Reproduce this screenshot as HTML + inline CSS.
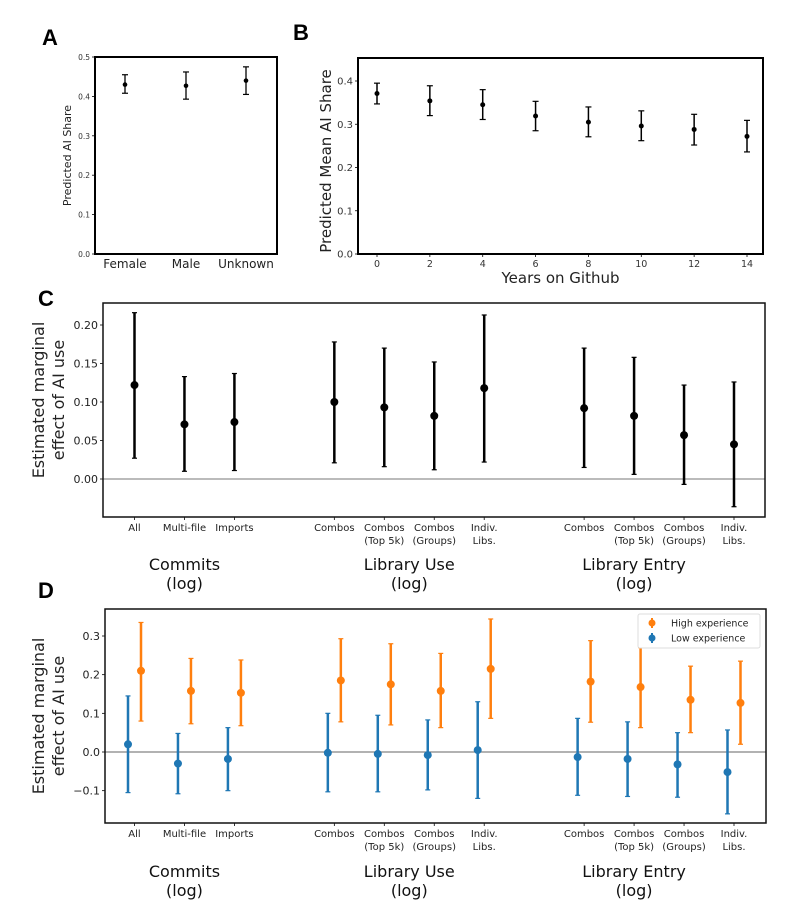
<!DOCTYPE html>
<html><head><meta charset="utf-8"><style>
body{margin:0;background:#fff;}
svg{display:block;font-family:"DejaVu Sans","Liberation Sans",sans-serif;}
</style></head><body>
<svg id="fig" width="799" height="920" viewBox="0 0 799 920"></svg>
<script>
// Panel A data
const aCats=["Female","Male","Unknown"];
const aVals=[0.430,0.427,0.440];
const aLo=[0.408,0.393,0.405];
const aHi=[0.455,0.462,0.475];
const aTicks=[0.0,0.1,0.2,0.3,0.4,0.5];
// Panel B data
const bYears=[0,2,4,6,8,10,12,14];
const bVals=[0.371,0.354,0.345,0.319,0.305,0.296,0.288,0.272];
const bLo=[0.347,0.320,0.311,0.285,0.271,0.262,0.252,0.236];
const bHi=[0.395,0.389,0.380,0.353,0.340,0.331,0.323,0.309];
const bTicks=[0.0,0.1,0.2,0.3,0.4];
// Panel C/D categories
const cdCats=[["All"],["Multi-file"],["Imports"],["Combos"],["Combos","(Top 5k)"],["Combos","(Groups)"],["Indiv.","Libs."],["Combos"],["Combos","(Top 5k)"],["Combos","(Groups)"],["Indiv.","Libs."]];
const cdPos=[0,1,2,4,5,6,7,9,10,11,12];
const groupLabels=[["Commits","(log)"],["Library Use","(log)"],["Library Entry","(log)"]];
const groupCenters=[1,5.5,10];
// Panel C
const cVals=[0.122,0.071,0.074,0.100,0.093,0.082,0.118,0.092,0.082,0.057,0.045];
const cLo=[0.027,0.010,0.011,0.021,0.016,0.012,0.022,0.015,0.006,-0.007,-0.036];
const cHi=[0.216,0.133,0.137,0.178,0.170,0.152,0.213,0.170,0.158,0.122,0.126];
const cTicks=[0.00,0.05,0.10,0.15,0.20];
// Panel D
const dHigh=[0.210,0.158,0.153,0.185,0.175,0.158,0.215,0.182,0.168,0.135,0.127];
const dHighLo=[0.080,0.073,0.068,0.078,0.070,0.063,0.087,0.077,0.063,0.050,0.020];
const dHighHi=[0.335,0.242,0.238,0.293,0.280,0.255,0.344,0.288,0.270,0.222,0.235];
const dLow=[0.020,-0.030,-0.018,-0.002,-0.005,-0.008,0.005,-0.013,-0.018,-0.032,-0.052];
const dLowLo=[-0.105,-0.108,-0.100,-0.103,-0.103,-0.098,-0.120,-0.112,-0.115,-0.117,-0.160];
const dLowHi=[0.145,0.048,0.063,0.100,0.095,0.083,0.130,0.087,0.078,0.050,0.057];
const dTicks=[-0.1,0.0,0.1,0.2,0.3];

const NS="http://www.w3.org/2000/svg";
const svg=document.getElementById('fig');
function mk(tag,attrs,parent,text){const e=document.createElementNS(NS,tag);for(const k in attrs)e.setAttribute(k,attrs[k]);if(text!==undefined)e.textContent=text;(parent||svg).appendChild(e);return e;}
function lin(d0,d1,r0,r1){return v=>r0+(v-d0)/(d1-d0)*(r1-r0);}
function errbar(g,x,y,ylo,yhi,col,w,cap,r){
  const l=mk('line',{x1:x,x2:x,y1:ylo,y2:yhi,stroke:col,'stroke-width':w},g);
  
  
  mk('line',{x1:x-cap,x2:x+cap,y1:ylo,y2:ylo,stroke:col,'stroke-width':1.2},g);
  mk('line',{x1:x-cap,x2:x+cap,y1:yhi,y2:yhi,stroke:col,'stroke-width':1.2},g);
  const c=mk('circle',{cx:x,cy:y,r:r,fill:col},g);
  
  
}
function panelLetter(t,x,y){const e=mk('text',{x:x,y:y,'font-size':22,'font-weight':'bold','font-family':'Liberation Sans, sans-serif'},svg,t);
  
  }

// ---- Panel A ----
(function(){
  const g=mk('g',{});
  
  
  const L=95,R=277,T=57,B=254;
  const y=lin(0,0.5,B,T);
  const xs=[125,186,246];
  aTicks.forEach(t=>{mk('line',{x1:L-3,x2:L,y1:y(t),y2:y(t),stroke:'#000','stroke-width':0.8},g);
    mk('text',{x:L-5,y:y(t)+3,'font-size':7.5,'text-anchor':'end',fill:'#333'},g,t.toFixed(1));});
  aCats.forEach((c,i)=>{errbar(g,xs[i],y(aVals[i]),y(aLo[i]),y(aHi[i]),'#000',1.3,3,2.3);
    mk('text',{x:xs[i],y:268,'font-size':12,'text-anchor':'middle',fill:'#222'},g,c);});
  mk('rect',{x:L,y:T,width:R-L,height:B-T,fill:'none',stroke:'#000','stroke-width':2},g);
  mk('text',{x:0,y:0,'font-size':11,'text-anchor':'middle',fill:'#222',transform:`translate(71,${(T+B)/2}) rotate(-90)`},g,'Predicted AI Share');
})();
panelLetter('A',42,45);

// ---- Panel B ----
(function(){
  const g=mk('g',{});
  
  
  const L=358,R=763,T=58,B=254;
  const y=lin(0,0.4,B,81);
  const x=lin(0,14,377,747);
  bTicks.forEach(t=>{mk('line',{x1:L-3,x2:L,y1:y(t),y2:y(t),stroke:'#000','stroke-width':0.8},g);
    mk('text',{x:L-5,y:y(t)+3.5,'font-size':10,'text-anchor':'end',fill:'#333'},g,t.toFixed(1));});
  bYears.forEach((yr,i)=>{mk('line',{x1:x(yr),x2:x(yr),y1:B,y2:B+3,stroke:'#000','stroke-width':0.8},g);
    mk('text',{x:x(yr),y:267,'font-size':9.5,'text-anchor':'middle',fill:'#333'},g,String(yr));
    errbar(g,x(yr),y(bVals[i]),y(bLo[i]),y(bHi[i]),'#000',1.5,3,2.5);});
  mk('rect',{x:L,y:T,width:R-L,height:B-T,fill:'none',stroke:'#000','stroke-width':2},g);
  mk('text',{x:(L+R)/2,y:283,'font-size':15,'text-anchor':'middle',fill:'#222'},g,'Years on Github');
  mk('text',{x:0,y:0,'font-size':15,'text-anchor':'middle',fill:'#222',transform:`translate(331,${(T+B)/2+5}) rotate(-90)`},g,'Predicted Mean AI Share');
})();
panelLetter('B',293,40);

function catAxis(g,x,B,tickY,grpY){
  cdPos.forEach((p,i)=>{mk('line',{x1:x(p),x2:x(p),y1:B,y2:B+3,stroke:'#000','stroke-width':0.8},g);
    cdCats[i].forEach((ln,j)=>mk('text',{x:x(p),y:tickY+j*13,'font-size':10,'text-anchor':'middle',fill:'#222'},g,ln));});
  groupLabels.forEach((gl,i)=>gl.forEach((ln,j)=>mk('text',{x:x(groupCenters[i]),y:grpY+j*19,'font-size':16,'text-anchor':'middle',fill:'#111'},g,ln)));
}
const xcd=lin(0,12,134.5,734);

// ---- Panel C ----
(function(){
  const g=mk('g',{});
  
  
  const L=103,R=765,T=303,B=517;
  const y=lin(0,0.2,479,325);
  mk('line',{x1:L,x2:R,y1:y(0),y2:y(0),stroke:'#777','stroke-width':1},g);
  cTicks.forEach(t=>{mk('line',{x1:L-3,x2:L,y1:y(t),y2:y(t),stroke:'#000','stroke-width':0.8},g);
    mk('text',{x:L-5,y:y(t)+4,'font-size':11,'text-anchor':'end',fill:'#222'},g,t.toFixed(2));});
  cdPos.forEach((p,i)=>errbar(g,xcd(p),y(cVals[i]),y(cLo[i]),y(cHi[i]),'#000',2.5,2.5,4));
  catAxis(g,xcd,B,531,570);
  mk('rect',{x:L,y:T,width:R-L,height:B-T,fill:'none',stroke:'#111','stroke-width':1.5},g);
  mk('text',{x:0,y:0,'font-size':16,'text-anchor':'middle',fill:'#222',transform:`translate(44,400) rotate(-90)`},g,'Estimated marginal');
  mk('text',{x:0,y:0,'font-size':16,'text-anchor':'middle',fill:'#222',transform:`translate(64,400) rotate(-90)`},g,'effect of AI use');
})();
panelLetter('C',38,306);

// ---- Panel D ----
(function(){
  const g=mk('g',{});
  
  
  const L=105,R=766,T=609,B=823;
  const y=lin(0,0.3,752,636);
  mk('line',{x1:L,x2:R,y1:y(0),y2:y(0),stroke:'#666','stroke-width':1},g);
  dTicks.forEach(t=>{mk('line',{x1:L-3,x2:L,y1:y(t),y2:y(t),stroke:'#000','stroke-width':0.8},g);
    mk('text',{x:L-5,y:y(t)+4,'font-size':11,'text-anchor':'end',fill:'#222'},g,(t<0?'\u2212':'')+Math.abs(t).toFixed(1));});
  cdPos.forEach((p,i)=>{
    errbar(g,xcd(p)-6.5,y(dLow[i]),y(dLowLo[i]),y(dLowHi[i]),'#1f77b4',2.5,2.5,4);
    errbar(g,xcd(p)+6.5,y(dHigh[i]),y(dHighLo[i]),y(dHighHi[i]),'#ff7f0e',2.5,2.5,4);});
  catAxis(g,xcd,B,837,877);
  mk('rect',{x:L,y:T,width:R-L,height:B-T,fill:'none',stroke:'#111','stroke-width':1.5},g);
  mk('text',{x:0,y:0,'font-size':16,'text-anchor':'middle',fill:'#222',transform:`translate(44,716) rotate(-90)`},g,'Estimated marginal');
  mk('text',{x:0,y:0,'font-size':16,'text-anchor':'middle',fill:'#222',transform:`translate(64,716) rotate(-90)`},g,'effect of AI use');
  const lg=mk('g',{},g);
  
  
  mk('rect',{x:638,y:614,width:122,height:34,fill:'#fff',stroke:'#ddd','stroke-width':1,rx:2},lg);
  [['#ff7f0e','High experience',623],['#1f77b4','Low experience',638]].forEach(([c,t,yy])=>{
    mk('line',{x1:652,x2:652,y1:yy-5,y2:yy+5,stroke:c,'stroke-width':2},lg);
    mk('circle',{cx:652,cy:yy,r:3.5,fill:c},lg);
    mk('text',{x:671,y:yy+3.5,'font-size':9.5,fill:'#222'},lg,t);});
})();
panelLetter('D',38,598);
</script>
</body></html>
